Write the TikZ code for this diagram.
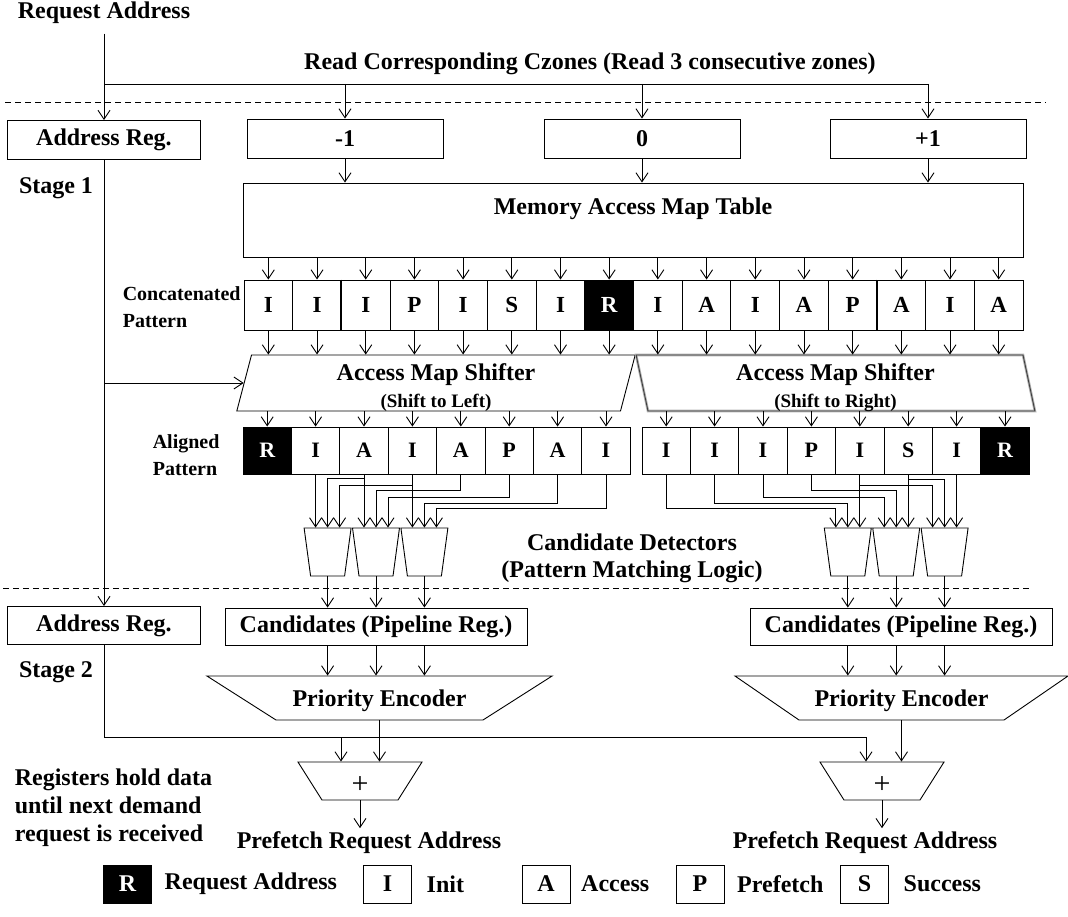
\documentclass[tikz,border=0pt]{standalone}
\usepackage{fontspec}
\setmainfont{Liberation Serif}
\usetikzlibrary{shapes.geometric, arrows.meta, positioning, calc}

\begin{document}
\begin{tikzpicture}[
  x=1pt, y=1pt, line width=0.9pt,
  every node/.style={font=\bfseries\fontsize{24}{27}\selectfont},
  box/.style={draw, minimum width=196pt, minimum height=39pt, inner sep=0pt},
  cell/.style={draw, minimum width=48.7pt, minimum height=50pt, inner sep=0pt,
               font=\bfseries\fontsize{23}{27}\selectfont},
  rcell/.style={cell, fill=black, text=white},
  acell/.style={cell, minimum width=48.4pt, minimum height=47pt,
                font=\bfseries\fontsize{22}{27}\selectfont},
  racell/.style={acell, fill=black, text=white},
  legbox/.style={draw, minimum width=48pt, minimum height=38pt, inner sep=0pt},
  shifter/.style={draw, trapezium, inner sep=0pt, align=flush center,
                  text height=25pt, text depth=31pt},
  gshift/.style={draw=black!75, preaction={draw=black!30, line width=2.6pt}},
  det/.style={draw, trapezium, trapezium left angle=97.7, trapezium right angle=97.7,
              inner sep=0pt, text width=34pt, text height=48pt, text depth=0pt},
  enc/.style={draw, trapezium, inner sep=0pt, align=flush center,
              text height=30pt, text depth=14pt},
  adder/.style={draw, trapezium, trapezium left angle=122.3, trapezium right angle=122.3,
                inner sep=0pt, align=flush center, text width=76pt, text height=31pt, text depth=7pt,
                font=\mdseries\fontsize{30}{30}\selectfont},
  lbl/.style={align=left, font=\bfseries\fontsize{20}{27}\selectfont},
  dashline/.style={dash pattern=on 6pt off 4pt},
  arr/.style={-{Straight Barb[length=9pt, width=12pt]}},
]
\useasboundingbox (0,0) rectangle (1068,-917);

% --- top: request address, zone read
\node (rqa) at (104,-13) {Request Address};
\node (rdz) at (590,-64) {Read Corresponding Czones (Read 3 consecutive zones)};
\draw[dashline] (5,-102) -- (1046,-102);

\node[box, minimum width=193pt] (areg1) at (104,-140) {Address Reg.};
\node[box] (zm1) at (345,-138.5) {-1};
\node[box] (z0)  at (642,-138.5) {0};
\node[box] (zp1) at (928,-138.5) {+1};
\node (st1) at (56,-188) {Stage 1};

\coordinate (brk) at (104,-84);
\draw[arr] ([yshift=-6pt]rqa.south) -- (areg1.north);
\draw (brk) -- (zp1.north |- brk);
\draw[arr] (zm1.north |- brk) -- (zm1.north);
\draw[arr] (z0.north |- brk) -- (z0.north);
\draw[arr] (zp1.north |- brk) -- (zp1.north);

% --- access map table
\node[box, minimum width=780pt, minimum height=74pt, align=center] (mamt) at (633,-220)
  {Memory Access Map Table\\\mbox{}};
\draw[arr] (zm1.south) -- (zm1.south |- mamt.north);
\draw[arr] (z0.south) -- (z0.south |- mamt.north);
\draw[arr] (zp1.south) -- (zp1.south |- mamt.north);

% --- concatenated pattern
\node[lbl, anchor=west] (ccl) at (119,-307) {Concatenated\\Pattern};
\foreach \t/\s [count=\i from 0] in {I/cell,I/cell,I/cell,P/cell,I/cell,S/cell,I/cell,R/rcell,
                                     I/cell,A/cell,I/cell,A/cell,P/cell,A/cell,I/cell,A/cell}
  \node[\s] (cc\i) at ({268.35+48.69*\i},-305) {\t};
\draw[line width=1.8pt] (cc2.north west) -- (cc2.south west);
\draw[line width=1.8pt] (cc13.north west) -- (cc13.south west);
\foreach \i in {0,...,15}
  \draw[arr] (cc\i.north |- mamt.south) -- (cc\i.north);

% --- shifters
\node[shifter, text width=369pt, trapezium left angle=75.3, trapezium right angle=104.7]
  (lsh) at (436,-383) {Access Map Shifter\\{\fontsize{19}{20}\selectfont(Shift to Left)}};
\node[shifter, gshift, text width=375pt, trapezium left angle=102, trapezium right angle=78]
  (rsh) at (835.5,-383) {Access Map Shifter\\{\fontsize{19}{20}\selectfont(Shift to Right)}};
\foreach \i in {0,...,7}
  \draw[arr] (cc\i.south) -- (cc\i.south |- lsh.north);
\foreach \i in {8,...,15}
  \draw[arr] (cc\i.south) -- (cc\i.south |- rsh.north);

% --- aligned patterns
\node[lbl, anchor=west] (alb) at (149,-455) {Aligned\\Pattern};
\foreach \t/\s [count=\i from 0] in {R/racell,I/acell,A/acell,I/acell,A/acell,P/acell,A/acell,I/acell}
  \node[\s] (la\i) at ({267.2+48.4*\i},-450.5) {\t};
\foreach \t/\s [count=\i from 0] in {I/acell,I/acell,I/acell,P/acell,I/acell,S/acell,I/acell,R/racell}
  \node[\s] (ra\i) at ({666.2+48.4*\i},-450.5) {\t};
\foreach \i in {0,...,7} {
  \draw[arr] (la\i.north |- lsh.south) -- (la\i.north);
  \draw[arr] (ra\i.north |- rsh.south) -- (ra\i.north);
}

% --- address register path
\node[box, minimum width=193pt, minimum height=38pt] (areg2) at (104,-625.5) {Address Reg.};
\node (st2) at (56,-672) {Stage 2};
\draw[arr] (areg1.south) -- (areg2.north);
\draw[arr] (areg1.south |- lsh.west) -- (lsh.west);

% --- candidate detectors
\node[det] (ld1) at (327.6,-552) {};
\node[det] (ld2) at (376.0,-552) {};
\node[det] (ld3) at (424.4,-552) {};
\node[det] (rd1) at (847.8,-552) {};
\node[det] (rd2) at (896.2,-552) {};
\node[det] (rd3) at (944.6,-552) {};
\node[align=center] (cdl) at (632,-558) {Candidate Detectors\\(Pattern Matching Logic)};

\draw[arr] (la1.south) -- (la1.south |- ld1.north);
\draw[arr] (la2.south) -- (la2.south |- ld2.north);
\draw[arr] (la3.south) -- (la3.south |- ld3.north);
\draw[arr] (la2.south) -- ++(0,-4) -| (ld1.north);
\draw[arr] (la3.south) -- ++(0,-11) -| ($(ld1.north)+(12,0)$);
\draw[arr] (la4.south) -- ++(0,-16) -| (ld2.north);
\draw[arr] (la5.south) -- ++(0,-23) -| ($(ld2.north)+(12,0)$);
\draw[arr] (la6.south) -- ++(0,-29) -| (ld3.north);
\draw[arr] (la7.south) -- ++(0,-34) -| ($(ld3.north)+(12,0)$);

\draw[arr] (ra4.south) -- (ra4.south |- rd1.north);
\draw[arr] (ra5.south) -- (ra5.south |- rd2.north);
\draw[arr] (ra6.south) -- (ra6.south |- rd3.north);
\draw[arr] (ra5.south) -- ++(0,-5) -| (rd3.north);
\draw[arr] (ra4.south) -- ++(0,-11) -| ($(rd3.north)+(-12,0)$);
\draw[arr] (ra3.south) -- ++(0,-16) -| (rd2.north);
\draw[arr] (ra2.south) -- ++(0,-23) -| ($(rd2.north)+(-12,0)$);
\draw[arr] (ra1.south) -- ++(0,-29) -| (rd1.north);
\draw[arr] (ra0.south) -- ++(0,-34) -| ($(rd1.north)+(-12,0)$);

\draw[dashline] (3,-588) -- (1030,-588);

% --- stage 2: candidates, encoders
\node[box, minimum width=302pt, minimum height=37pt] (lcand) at (376,-626.5) {Candidates (Pipeline Reg.)};
\node[box, minimum width=302pt, minimum height=37pt] (rcand) at (901,-626.5) {Candidates (Pipeline Reg.)};
\node[enc, text width=207pt, trapezium left angle=147.5, trapezium right angle=147.5]
  (lenc) at (379.5,-698) {Priority Encoder};
\node[enc, text width=205pt, trapezium left angle=145.5, trapezium right angle=145.5]
  (renc) at (901.5,-698) {Priority Encoder};
\foreach \d in {ld1,ld2,ld3} {
  \draw[arr] (\d.south) -- (\d.south |- lcand.north);
  \draw[arr] (\d.south |- lcand.south) -- (\d.south |- lenc.north);
}
\foreach \d in {rd1,rd2,rd3} {
  \draw[arr] (\d.south) -- (\d.south |- rcand.north);
  \draw[arr] (\d.south |- rcand.south) -- (\d.south |- renc.north);
}

% --- adders
\node[adder] (ladd) at (360,-781) {+};
\node[adder] (radd) at (882,-781) {+};
\coordinate (busL) at (341,-737);
\coordinate (busR) at (866,-737);
\draw (areg2.south) |- (busR);
\draw[arr] (busL) -- (busL |- ladd.north);
\draw[arr] (busR) -- (busR |- radd.north);
\draw[arr] (lenc.south) -- (lenc.south |- ladd.north);
\draw[arr] (renc.south) -- (renc.south |- radd.north);

\node (lpra) at (369,-843) {Prefetch Request Address};
\node (rpra) at (865,-843) {Prefetch Request Address};
\draw[arr] (ladd.south) -- (ladd.south |- lpra.north);
\draw[arr] (radd.south) -- (radd.south |- rpra.north);

\node[align=left, anchor=west, font=\bfseries\fontsize{24}{28}\selectfont] (note) at (11,-808)
  {Registers hold data\\until next demand\\request is received};

% --- legend
\node[legbox, fill=black, text=white] (lgR) at (127.5,-884) {R};
\node[right=9pt of lgR] (lgRt) {Request Address};
\node[legbox] (lgI) at (387.5,-884) {I};
\node[right=11pt of lgI] (lgIt) {Init};
\node[legbox] (lgA) at (546,-884) {A};
\node[right=7pt of lgA] (lgAt) {Access};
\node[legbox] (lgP) at (700,-884) {P};
\node[right=9pt of lgP] (lgPt) {Prefetch};
\node[legbox] (lgS) at (864.5,-884) {S};
\node[right=11pt of lgS] (lgSt) {Success};
\end{tikzpicture}
\end{document}
